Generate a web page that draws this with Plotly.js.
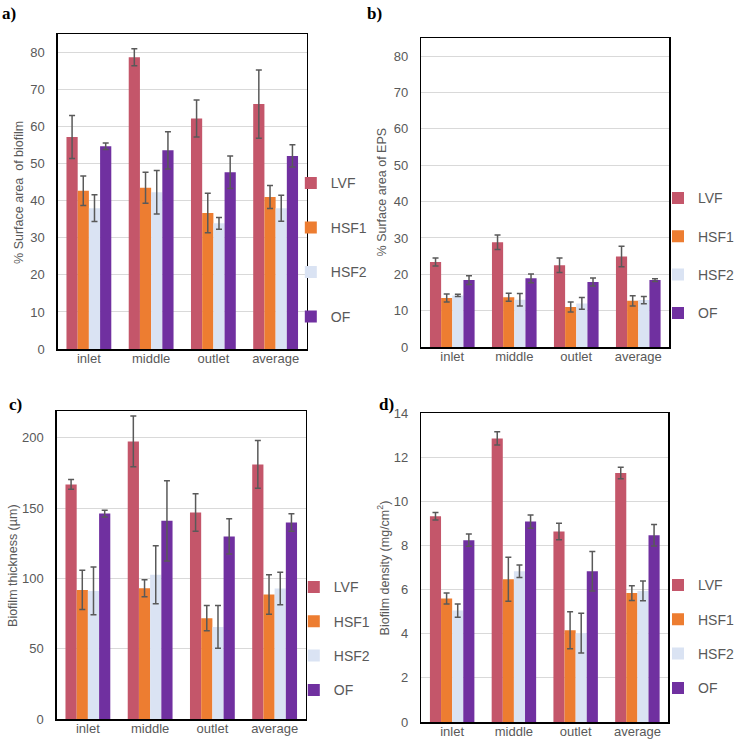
<!DOCTYPE html>
<html>
<head>
<meta charset="utf-8">
<script src="https://cdn.plot.ly/plotly-3.0.1.min.js"></script>
<style>
  html, body { margin: 0; padding: 0; background: #fff; }
  #chart { width: 739px; height: 741px; }
</style>
</head>
<body>
<div id="chart"></div>
<script>
const categories = ["inlet", "middle", "outlet", "average"];
const seriesNames = ["LVF", "HSF1", "HSF2", "OF"];
const seriesColors = ["#c4566a", "#ed7d31", "#dae3f3", "#7030a0"];

// rows follow seriesNames, columns follow categories
const biofilmArea = [[57.2, 78.7, 62.2, 66.1], [42.7, 43.5, 36.7, 41.0], [38.0, 42.3, 33.9, 38.0], [54.7, 53.6, 47.7, 52.1]];
const biofilmAreaErr = [[5.8, 2.3, 5.0, 9.2], [4.0, 4.2, 5.3, 3.1], [3.6, 5.9, 1.6, 3.5], [0.9, 5.0, 4.4, 3.0]];

const epsArea = [[23.4, 28.8, 22.5, 24.9], [13.5, 13.7, 11.0, 12.7], [14.2, 13.0, 12.0, 12.9], [18.4, 18.9, 17.9, 18.4]];
const epsAreaErr = [[1.1, 2.0, 2.0, 2.8], [1.1, 1.1, 1.4, 1.4], [0.3, 1.7, 1.6, 1.0], [1.2, 1.2, 1.1, 0.4]];

const thickness = [[166.8, 197.4, 146.8, 181.0], [91.8, 93.0, 71.7, 88.5], [91.1, 102.5, 65.5, 92.8], [146.1, 140.9, 129.8, 139.7]];
const thicknessErr = [[3.5, 18, 13.3, 17], [14, 6, 9, 14], [17, 20.6, 15.2, 11.5], [2.4, 28.5, 12.5, 6.2]];

const density = [[9.32, 12.85, 8.63, 11.28], [5.6, 6.47, 4.16, 5.84], [5.05, 6.83, 4.03, 5.94], [8.24, 9.08, 6.83, 8.46]];
const densityErr = [[0.17, 0.3, 0.37, 0.26], [0.25, 1.0, 0.84, 0.33], [0.3, 0.28, 0.9, 0.45], [0.28, 0.3, 0.9, 0.49]];

const W = 739, H = 741;
const px = v => v / W;
const py = v => 1 - v / H;

const font = "Liberation Sans, Arial, sans-serif";
const grey = "#595959";

// pixel boxes of the four panels: [left, right, top, bottom]
const panels = [
  { id: "a", box: [58, 308, 34, 349], range: [0, 85], dtick: 10, vals: biofilmArea, errs: biofilmAreaErr,
    title: "% Surface area  of biofilm", titleX: 19, titleY: 192, legX: 292, legTop: 183, gap: 23.3 },
  { id: "b", box: [423, 672, 38, 347], range: [0, 85], dtick: 10, vals: epsArea, errs: epsAreaErr,
    title: "% Surface area of EPS", titleX: 384, titleY: 192, legX: 661, legTop: 198, gap: 17.1 },
  { id: "c", box: [57, 307, 411, 719], range: [0, 219], dtick: 50, vals: thickness, errs: thicknessErr,
    title: "Biofilm thickness (µm)", titleX: 13, titleY: 565, legX: 295, legTop: 587, gap: 13.1 },
  { id: "d", box: [423, 671, 413, 722], range: [0, 14], dtick: 2, vals: density, errs: densityErr,
    title: "Biofilm density (mg/cm<sup>2</sup>)", titleX: 385, titleY: 568, legX: 661, legTop: 585, gap: 13.1 }
];

const traces = [];
const layout = {
  width: W, height: H,
  margin: { l: 0, r: 0, t: 0, b: 0 },
  paper_bgcolor: "#fff", plot_bgcolor: "#fff",
  font: { family: font, color: grey, size: 13 },
  barmode: "group", bargap: 0.28, bargroupgap: 0,
  annotations: []
};

panels.forEach((p, i) => {
  const n = i === 0 ? "" : String(i + 1);
  const legendName = "legend" + n;
  seriesNames.forEach((name, s) => {
    traces.push({
      type: "bar",
      x: categories,
      y: p.vals[s],
      name: name,
      xaxis: "x" + n, yaxis: "y" + n,
      legend: legendName,
      legendgroup: p.id + name,
      marker: { color: seriesColors[s], line: { width: 0 } },
      error_y: { type: "data", array: p.errs[s], visible: true, color: grey, thickness: 1.5, width: 3 },
      hoverinfo: "x+y+name"
    });
  });

  const [l, r, t, b] = p.box;
  layout["xaxis" + n] = {
    domain: [px(l), px(r)], anchor: "y" + n,
    showline: true, mirror: true, linecolor: "#000", linewidth: 1.5,
    ticks: "", showgrid: false, zeroline: false,
    ticklabelstandoff: -3,
    tickfont: { family: font, size: 13, color: grey }
  };
  layout["yaxis" + n] = {
    domain: [py(b), py(t)], anchor: "x" + n,
    range: p.range, dtick: p.dtick,
    showline: true, mirror: true, linecolor: "#000", linewidth: 1.5,
    ticks: "", showgrid: true, gridcolor: "#d9d9d9", gridwidth: 1, zeroline: false,
    ticklabelstandoff: 9,
    tickfont: { family: font, size: 13, color: grey }
  };
  layout[legendName] = {
    x: px(p.legX), xanchor: "left",
    y: py(p.legTop - 15.6), yanchor: "top",
    bgcolor: "rgba(0,0,0,0)",
    traceorder: "grouped", tracegroupgap: p.gap,
    font: { family: font, size: 14, color: grey }
  };
  layout.annotations.push({
    xref: "paper", yref: "paper",
    x: px(p.titleX), y: py(p.titleY),
    xanchor: "center", yanchor: "middle",
    text: p.title, textangle: -90, showarrow: false,
    font: { family: font, size: 12.5, color: grey }
  });
});

// panel letters
[["a)", 0, 2], ["b)", 366, 2], ["c)", 7, 393], ["d)", 379, 393]].forEach(([txt, x, y]) => {
  layout.annotations.push({
    xref: "paper", yref: "paper",
    x: px(x), y: py(y), xanchor: "left", yanchor: "top",
    text: "<b>" + txt + "</b>", showarrow: false,
    font: { family: "Liberation Serif, Times New Roman, serif", size: 17, color: "#000" }
  });
});

Plotly.newPlot("chart", traces, layout, { staticPlot: true });
</script>
</body>
</html>
